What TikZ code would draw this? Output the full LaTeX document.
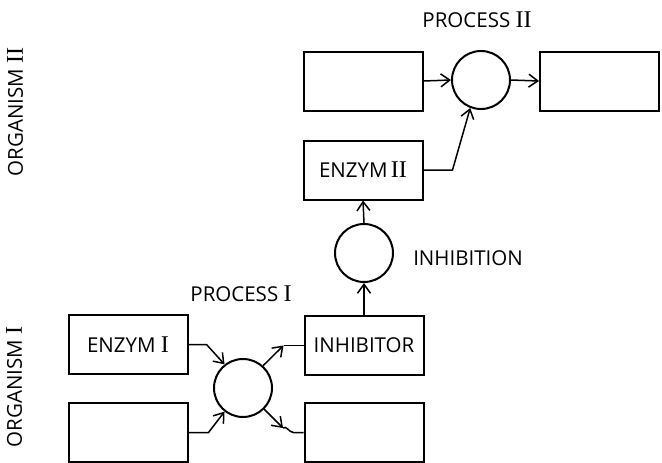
\documentclass[tikz,border=0pt]{standalone}
\usepackage{fontspec}
\setmainfont{Open Sans}
\newfontfamily\numfont{Liberation Serif}
\newcommand{\rn}[1]{{\numfont\fontsize{24}{25}\selectfont #1}}
\usetikzlibrary{arrows.meta}
\begin{document}
\begin{tikzpicture}[x=1pt,y=-1pt,
  every node/.style={font=\fontsize{20.5}{22}\selectfont},
  box/.style={draw, line width=2pt, minimum width=119pt, minimum height=59pt, inner sep=0pt},
  proc/.style={draw, circle, line width=2pt, minimum size=58pt, inner sep=0pt},
  ln/.style={line width=1.5pt},
  conn/.style={ln, -{Straight Barb[length=9pt,width=13pt]}},
  lbl/.style={inner sep=0pt}]
\useasboundingbox (0,0) rectangle (662,463);
% organism I
\node[box] (e1) at (128,344.5) {ENZYM \rn{I}};
\node[box] (s1) at (128,432.5) {};
\node[proc] (c1) at (243,388) {};
\node[box] (inh) at (364,345.5) {INHIBITOR};
\node[box] (p1) at (364,432.5) {};
\node[lbl] (t1) at (241,294) {PROCESS \rn{I}};
% organism II
\node[proc] (ci) at (364,253) {};
\node[lbl] (ti) at (468,258) {INHIBITION};
\node[box] (e2) at (363,170) {ENZYM\,\rn{II}};
\node[box] (s2) at (363,81) {};
\node[proc] (c2) at (481,80) {};
\node[box] (p2) at (599.5,81) {};
\node[lbl] (t2) at (477,20) {PROCESS \rn{II}};
% side labels
\node[lbl, rotate=90] (o2) at (15,112) {ORGANISM \rn{II}};
\node[lbl, rotate=90] (o1) at (14,387) {ORGANISM \rn{I}};
% connectors
\draw[conn] (e1.east) -- ++(18,0) -- (c1.128);
\draw[conn] (s1.east) -- ++(20,0) -- (c1.232);
\draw[ln] (inh.west) -- ++(-20,0) coordinate (k1);
\draw[conn] (c1.48) -- (k1);
\coordinate (k2) at (283,428);
\draw[ln] (p1.west) -- ++(-10,0) to[out=180,in=40] (k2);
\draw[conn] (c1.-45) -- (k2);
\draw[conn] (inh.north) -- (ci.south);
\draw[conn] (ci.north) -- (e2.south);
\draw[conn] (e2.east) -- ++(29,0) -- (c2.249);
\draw[conn] (s2.east) -- (c2.west);
\draw[conn] (c2.east) -- (p2.west);
\end{tikzpicture}
\end{document}
